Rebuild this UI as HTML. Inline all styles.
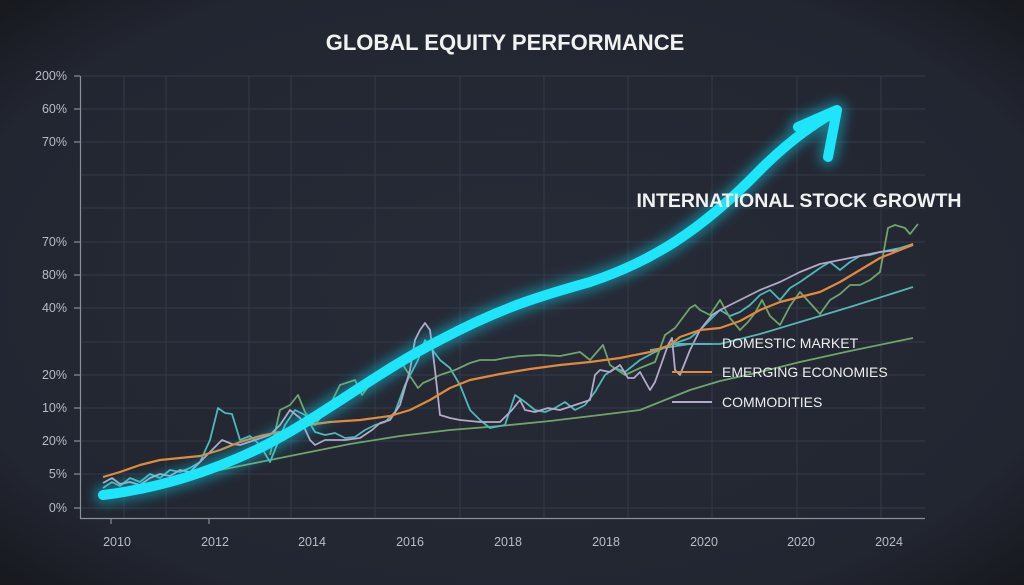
<!DOCTYPE html>
<html><head><meta charset="utf-8"><style>
html,body{margin:0;padding:0;background:#1f232d;}
svg{display:block;font-family:"Liberation Sans",sans-serif;}
</style></head><body>
<svg width="1024" height="585" viewBox="0 0 1024 585">
<defs>
<radialGradient id="bg" cx="50%" cy="50%" r="70%">
<stop offset="0%" stop-color="#272b37"/><stop offset="80%" stop-color="#222631"/><stop offset="100%" stop-color="#17191f"/>
</radialGradient>
<filter id="glow" x="-20%" y="-20%" width="140%" height="140%"><feGaussianBlur stdDeviation="6"/></filter>
</defs>
<rect width="1024" height="585" fill="url(#bg)"/>
<text x="505" y="50" fill="#f2f2f2" font-size="22" font-weight="bold" text-anchor="middle">GLOBAL EQUITY PERFORMANCE</text>
<g stroke="#343a47" stroke-width="1">
<line x1="80" y1="76" x2="925" y2="76"/><line x1="80" y1="109" x2="925" y2="109"/><line x1="80" y1="142" x2="925" y2="142"/><line x1="80" y1="175" x2="925" y2="175"/><line x1="80" y1="208" x2="925" y2="208"/><line x1="80" y1="242" x2="925" y2="242"/><line x1="80" y1="275" x2="925" y2="275"/><line x1="80" y1="308" x2="925" y2="308"/><line x1="80" y1="342" x2="925" y2="342"/><line x1="80" y1="375" x2="925" y2="375"/><line x1="80" y1="408" x2="925" y2="408"/><line x1="80" y1="441" x2="925" y2="441"/><line x1="80" y1="474" x2="925" y2="474"/><line x1="80" y1="508" x2="925" y2="508"/>
<line x1="124" y1="76" x2="124" y2="518"/><line x1="166" y1="76" x2="166" y2="518"/><line x1="249" y1="76" x2="249" y2="518"/><line x1="291" y1="76" x2="291" y2="518"/><line x1="375" y1="76" x2="375" y2="518"/><line x1="460" y1="76" x2="460" y2="518"/><line x1="544" y1="76" x2="544" y2="518"/><line x1="628" y1="76" x2="628" y2="518"/><line x1="712" y1="76" x2="712" y2="518"/><line x1="797" y1="76" x2="797" y2="518"/><line x1="881" y1="76" x2="881" y2="518"/>
</g>
<g stroke="#8a8f99" stroke-width="1.2">
<line x1="80.5" y1="76" x2="80.5" y2="519"/><line x1="80" y1="518.5" x2="925" y2="518.5"/>
<line x1="74" y1="76" x2="80" y2="76"/><line x1="74" y1="109" x2="80" y2="109"/><line x1="74" y1="142" x2="80" y2="142"/><line x1="74" y1="242" x2="80" y2="242"/><line x1="74" y1="275" x2="80" y2="275"/><line x1="74" y1="308" x2="80" y2="308"/><line x1="74" y1="375" x2="80" y2="375"/><line x1="74" y1="408" x2="80" y2="408"/><line x1="74" y1="441" x2="80" y2="441"/><line x1="74" y1="474" x2="80" y2="474"/><line x1="74" y1="508" x2="80" y2="508"/>
<line x1="111" y1="519" x2="111" y2="524"/><line x1="209" y1="519" x2="209" y2="524"/>
</g>
<g fill="#b8bcc4" font-size="12.5" text-anchor="end">
<text x="67" y="80">200%</text><text x="67" y="113">60%</text><text x="67" y="146">70%</text><text x="67" y="246">70%</text><text x="67" y="279">80%</text><text x="67" y="312">40%</text><text x="67" y="379">20%</text><text x="67" y="412">10%</text><text x="67" y="445">20%</text><text x="67" y="478">5%</text><text x="67" y="512">0%</text>
</g>
<g fill="#b8bcc4" font-size="12.5" text-anchor="middle">
<text x="117" y="546">2010</text><text x="215" y="546">2012</text><text x="312" y="546">2014</text><text x="410" y="546">2016</text><text x="508" y="546">2018</text><text x="606" y="546">2018</text><text x="704" y="546">2020</text><text x="801" y="546">2020</text><text x="889" y="546">2024</text>
</g>
<g fill="none" stroke-width="1.8" stroke-linejoin="round">
<polyline stroke="#6fa56c" points="103,492 150,484 200,474 250,464 300,454 350,444 400,436 450,430 500,426 550,421 600,415 640,410 660,402 690,390 720,381 760,372 800,362 850,351 913,338"/>
<polyline stroke="#5ab3b3" points="650,350 690,344 720,344 760,334 800,322 850,307 913,287"/>
<polyline stroke="#4fb8b8" points="103,488 112,482 120,486 130,478 140,482 150,474 160,478 170,470 180,472 190,468 200,462 210,440 218,408 225,413 232,414 240,440 250,436 260,445 270,462 285,425 295,410 305,415 315,432 325,435 335,433 345,438 355,437 365,430 375,425 385,422 395,412 405,385 418,360 425,340 440,360 450,368 460,385 470,410 480,420 490,428 505,425 515,395 525,402 535,410 545,412 555,408 565,402 575,410 585,405 595,392 605,375 615,368 625,372 640,360 655,352 670,345 690,338 700,330 712,318 720,310 730,316 740,312 750,305 760,295 770,290 780,300 790,288 800,282 810,275 820,268 830,262 840,270 850,262 860,256 870,255 880,252 890,250 900,248 913,244"/>
<polyline stroke="#6fa56c" points="270,455 280,410 290,405 298,395 305,412 315,425 330,405 340,385 355,380 362,395 368,387 375,380 385,375 392,363 400,360 410,376 418,388 423,383 430,380 440,375 455,370 470,363 480,360 495,360 505,358 520,356 540,355 560,356 580,352 590,360 603,345 610,365 625,375 640,368 655,362 665,335 675,328 690,308 695,305 700,310 710,315 720,300 730,318 740,330 748,322 755,313 762,300 770,316 780,325 790,306 800,292 810,303 820,314 830,300 840,294 850,285 860,285 870,280 880,272 888,228 895,225 905,228 910,234 918,224"/>
<polyline stroke="#b3a9c9" points="103,483 112,478 120,484 130,482 140,485 150,478 160,474 170,476 180,470 190,472 200,462 210,452 222,440 232,444 240,445 255,440 270,435 280,425 290,410 300,418 310,440 315,445 325,440 345,440 360,438 372,430 380,423 390,420 400,405 410,370 415,340 420,330 425,323 430,330 435,370 440,415 450,418 460,420 480,422 500,422 512,410 520,400 525,410 535,412 548,408 560,410 575,405 590,400 595,375 600,370 610,372 620,365 628,378 634,378 640,372 650,390 655,382 668,345 672,338 675,370 680,375 690,350 700,330 712,315 720,310 740,300 760,290 780,282 800,272 820,264 840,260 860,256 880,252 900,250 913,245"/>
<polyline stroke="#e08a3c" stroke-width="2.2" points="103,477 120,472 140,465 160,460 180,458 200,456 220,450 240,442 260,436 280,432 300,426 330,422 360,420 390,416 410,410 430,400 450,388 470,380 500,374 530,369 560,365 590,362 620,358 650,352 670,345 680,337 700,330 720,328 740,321 760,310 780,302 800,297 820,292 840,282 860,270 880,258 900,250 913,244"/>
</g>
<g fill="none" stroke-linecap="round" stroke-linejoin="round">
<path d="M103,495 C160,488 210,472 260,448 C320,418 380,370 440,340 C500,308 540,296 590,282 C650,262 700,232 760,170 C790,140 815,123 835,112 M798,127 L837,110 L828,157" stroke="#19d9f5" stroke-width="18" opacity="0.45" filter="url(#glow)"/>
<path d="M103,495 C160,488 210,472 260,448 C320,418 380,370 440,340 C500,308 540,296 590,282 C650,262 700,232 760,170 C790,140 815,123 835,112 M798,127 L837,110 L828,157" stroke="#1de6fb" stroke-width="10"/>
</g>
<text x="799" y="207" fill="#f2f2f2" font-size="19.5" font-weight="bold" text-anchor="middle">INTERNATIONAL STOCK GROWTH</text>
<g font-size="14" fill="#eeeeee">
<line x1="672" y1="344" x2="712" y2="344" stroke="#5ab3b3" stroke-width="2"/>
<text x="722" y="348">DOMESTIC MARKET</text>
<line x1="672" y1="372" x2="712" y2="372" stroke="#e08a3c" stroke-width="2"/>
<text x="722" y="377">EMERGING ECONOMIES</text>
<line x1="672" y1="402" x2="712" y2="402" stroke="#b3a9c9" stroke-width="2"/>
<text x="722" y="407">COMMODITIES</text>
</g>
</svg>
</body></html>
